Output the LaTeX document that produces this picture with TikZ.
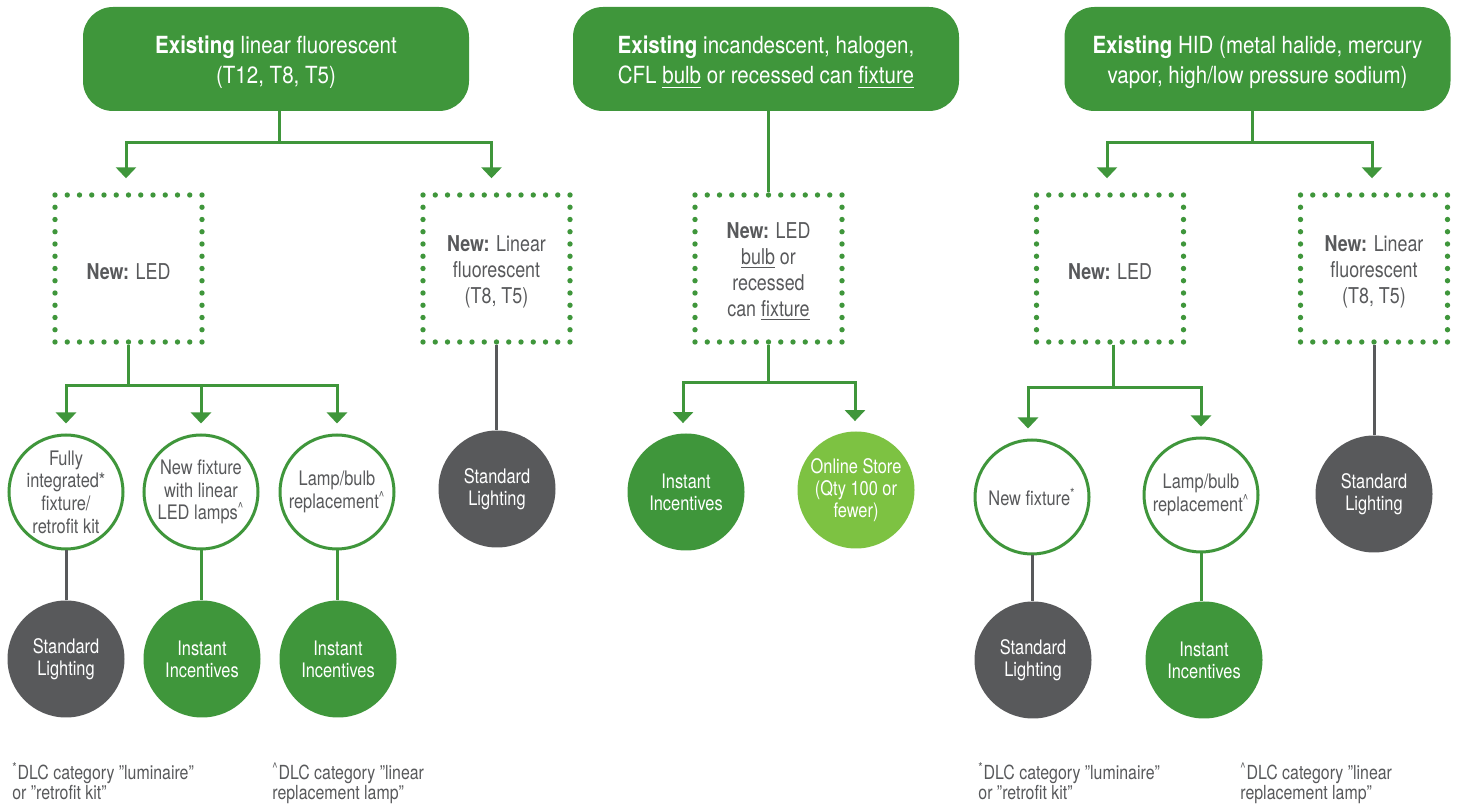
\documentclass[tikz,border=0pt]{standalone}
\usepackage{fontspec}
\setmainfont[FakeStretch=0.82]{TeX Gyre Heros}
\newfontfamily\topfont[FakeStretch=0.87]{TeX Gyre Heros}
\usetikzlibrary{arrows.meta}
\definecolor{dg}{HTML}{3F963B}
\definecolor{lg}{HTML}{7DC242}
\definecolor{gy}{HTML}{58595B}
\newcommand{\dn}[1]{\rule{0pt}{#1}}
\begin{document}
\begin{tikzpicture}[x=0.5pt,y=-0.5pt,
 topbox/.style={fill=dg, rounded corners=15pt, minimum width=193pt, minimum height=52pt, text=white, align=center, font=\topfont\fontsize{11.8}{15}\selectfont, inner sep=0pt},
 dotbox/.style={draw=dg, line width=2.7pt, line cap=round, dash pattern=on 0pt off 6.125pt, minimum size=73.5pt, inner sep=0pt, align=center, text=gy, font=\fontsize{10.9}{13}\selectfont},
 ocirc/.style={circle, draw=dg, line width=1.5pt, fill=white, minimum size=57pt, inner sep=0pt, align=center, text=gy, font=\fontsize{10}{11.3}\selectfont},
 fcirc/.style={circle, fill=#1, minimum size=58.5pt, inner sep=0pt, align=center, text=white, font=\fontsize{10}{11}\selectfont},
 gline/.style={draw=dg, line width=1.5pt},
 yline/.style={draw=gy, line width=1.5pt},
 garr/.style={gline, -{Triangle[width=10pt,length=5.5pt]}},
 note/.style={align=left, anchor=north west, text=gy, font=\fontsize{9.7}{9}\selectfont, inner sep=0pt}
]
\useasboundingbox (0,0) rectangle (1457,806);

% top boxes
\node[topbox] (b1) at (276,59) {\dn{12pt}{\bfseries Existing} linear fluorescent\\(T12, T8, T5)};
\node[topbox] (b2) at (766,59) {\dn{12pt}{\bfseries Existing} incandescent, halogen,\\CFL \underline{bulb} or recessed can \underline{fixture}};
\node[topbox] (b3) at (1257.5,59) {\dn{12pt}{\bfseries Existing} HID (metal halide, mercury\\vapor, high/low pressure sodium)};

% dotted boxes
\node[dotbox] (led1) at (128.5,268.5) {\dn{11pt}{\bfseries New:} LED};
\node[dotbox] (lf1) at (496.5,268.5) {\dn{11.2pt}{\bfseries New:} Linear\\fluorescent\\(T8, T5)};
\node[dotbox] (d2) at (768.5,268.5) {\dn{11.2pt}{\bfseries New:} LED\\\underline{bulb} or\\recessed\\can \underline{fixture}};
\node[dotbox] (led3) at (1110,268.5) {\dn{11pt}{\bfseries New:} LED};
\node[dotbox] (lf3) at (1374,268.5) {\dn{11.2pt}{\bfseries New:} Linear\\fluorescent\\(T8, T5)};

% circles left group
\node[ocirc] (c1a) at (66,492) {Fully\\integrated*\\fixture/\\retrofit kit};
\node[ocirc] (c1b) at (201,492) {New fixture\\with linear\\LED lamps\textsuperscript{\textasciicircum}};
\node[ocirc] (c1c) at (337,492) {Lamp/bulb\\replacement\textsuperscript{\textasciicircum}};
\node[fcirc=gy] (c1d) at (66,659) {Standard\\Lighting};
\node[fcirc=dg] (c1e) at (202,659) {Instant\\Incentives};
\node[fcirc=dg] (c1f) at (338,659) {Instant\\Incentives};
\node[fcirc=gy] (sl1) at (497,489) {Standard\\Lighting};

% middle group
\node[fcirc=dg] (c2a) at (686,492) {Instant\\Incentives};
\node[fcirc=lg] (c2b) at (856,490) {Online Store\\(Qty 100 or\\fewer)};

% right group
\node[ocirc] (c3a) at (1032,497) {New fixture\textsuperscript{*}};
\node[ocirc] (c3b) at (1201,495) {Lamp/bulb\\replacement\textsuperscript{\textasciicircum}};
\node[fcirc=gy] (c3c) at (1033,660) {Standard\\Lighting};
\node[fcirc=dg] (c3d) at (1204,660) {Instant\\Incentives};
\node[fcirc=gy] (sl3) at (1374,494) {Standard\\Lighting};

% connectors group 1
\draw[garr, shorten >=7pt] ([xshift=1.5pt]b1.south) -- ++(0,31) -| ([xshift=-1.25pt]led1.north);
\draw[garr, shorten >=7pt] ([xshift=1.5pt]b1.south) -- ++(0,31) -| ([xshift=-2.5pt]lf1.north);
\draw[garr, shorten >=5pt] (led1.south) -- ++(0,41) -| (c1a.north);
\draw[garr, shorten >=5pt] (led1.south) -- ++(0,41) -| (c1b.north);
\draw[garr, shorten >=5pt] (led1.south) -- ++(0,41) -| (c1c.north);
\draw[yline] (c1a.south) -- (c1d.north);
\draw[gline] (c1b.south) -- (c1b.south |- c1e.north);
\draw[gline] (c1c.south) -- (c1c.south |- c1f.north);
\draw[yline] (lf1.south) -- (lf1.south |- sl1.north);

% connectors group 2
\draw[gline] ([xshift=1pt]b2.south) -- ([xshift=1pt]b2.south |- d2.north);
\draw[garr, shorten >=5pt] (d2.south) -- ++(0,38) -| ([xshift=-1.5pt]c2a.north);
\draw[garr, shorten >=5pt] (d2.south) -- ++(0,38) -| ([xshift=-0.5pt]c2b.north);

% connectors group 3
\draw[garr, shorten >=7pt] ([xshift=-2.75pt]b3.south) -- ++(0,31) -| ([xshift=-1.5pt]led3.north);
\draw[garr, shorten >=7pt] ([xshift=-2.75pt]b3.south) -- ++(0,31) -| ([xshift=-1pt]lf3.north);
\draw[garr, shorten >=5pt] ([xshift=1.5pt]led3.south) -- ++(0,43) -| ([xshift=-2pt]c3a.north);
\draw[garr, shorten >=5pt] ([xshift=1.5pt]led3.south) -- ++(0,43) -| (c3b.north);
\draw[yline] (c3a.south) -- (c3a.south |- c3c.north);
\draw[gline] (c3b.south) -- (c3b.south |- c3d.north);
\draw[yline] (lf3.south) -- (lf3.south |- sl3.north);

% footnotes
\node[note] (n1) at (12,762) {\textsuperscript{*}DLC category \char"22 luminaire\char"22\\or \char"22 retrofit kit\char"22};
\node[note] (n2) at (272,762) {\textsuperscript{\textasciicircum}DLC category \char"22 linear\\replacement lamp\char"22};
\node[note] (n3) at (978,762) {\textsuperscript{*}DLC category \char"22 luminaire\char"22\\or \char"22 retrofit kit\char"22};
\node[note] (n4) at (1240,762) {\textsuperscript{\textasciicircum}DLC category \char"22 linear\\replacement lamp\char"22};
\end{tikzpicture}
\end{document}
